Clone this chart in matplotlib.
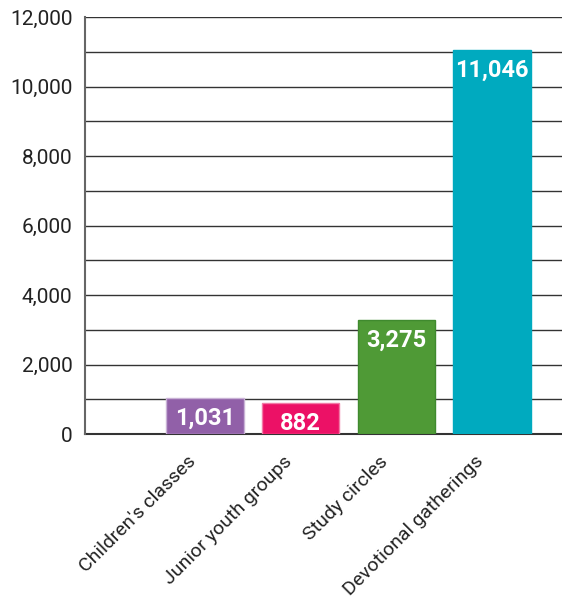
import numpy as np
import matplotlib.pyplot as plt
from matplotlib.ticker import MultipleLocator, FuncFormatter
from matplotlib.transforms import ScaledTranslation

plt.rcParams['font.family'] = ['Roboto', 'DejaVu Sans']

categories = ["Children's classes", 'Junior youth groups', 'Study circles', 'Devotional gatherings']
values = [1031, 882, 3275, 11046]
colors = ['#9160a8', '#ec1166', '#4f9a36', '#00aabf']
edges = ['#c9b2d6', '#f27aa6', '#3f8a2e', '#00aabf']

fig = plt.figure(figsize=(5.62, 6.01), dpi=100)
ax = fig.add_axes([85 / 562, 1 - 434 / 601, 1 - 85 / 562, (434 - 17) / 601])

x = np.arange(1, len(categories) + 1)
bars = ax.bar(x, values, width=0.81, color=colors, edgecolor=edges, linewidth=1, zorder=3)

for xi, v in zip(x, values):
    ax.text(xi, v - 590, f'{v:,}', ha='center', va='center', color='white',
            fontsize=17, fontweight='bold', zorder=4)

ax.set_xlim(-0.25, 4.73)
ax.set_ylim(0, 12000)

ax.yaxis.set_major_locator(MultipleLocator(2000))
ax.yaxis.set_minor_locator(MultipleLocator(1000))
ax.yaxis.set_major_formatter(FuncFormatter(lambda v, _: f'{int(v):,}'))
ax.grid(axis='y', which='both', color='#333333', linewidth=1, zorder=0)
ax.tick_params(axis='y', which='both', length=0, pad=9, labelsize=15, labelcolor='#222222')

ax.set_xticks(x)
ax.set_xticklabels(categories, rotation=45, ha='right', va='center', rotation_mode='anchor',
                   fontsize=14, color='#222222')
ax.tick_params(axis='x', length=0, pad=18)
shift = ScaledTranslation(-8 / 72, 0, fig.dpi_scale_trans)
for lbl in ax.get_xticklabels():
    lbl.set_transform(lbl.get_transform() + shift)

for side in ['top', 'right']:
    ax.spines[side].set_visible(False)
ax.spines['left'].set_color('#666666')
ax.spines['left'].set_linewidth(1.5)
ax.spines['bottom'].set_color('#333333')
ax.spines['bottom'].set_linewidth(1.5)
ax.spines['left'].set_zorder(5)

fig.savefig('out.png', dpi=100)
